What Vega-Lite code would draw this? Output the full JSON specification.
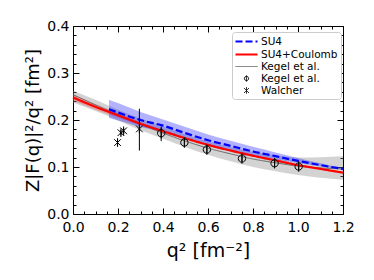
{
  "$schema": "https://vega.github.io/schema/vega-lite/v6.json",
  "width": 270,
  "height": 188,
  "autosize": {"type": "none"},
  "padding": {"left": 73, "top": 26, "right": 31, "bottom": 66},
  "config": {
    "font": "DejaVu Sans",
    "view": {"stroke": null},
    "axis": {"grid": false, "domainColor": "black", "tickColor": "black", "labelColor": "black", "titleColor": "black", "domainWidth": 1, "tickWidth": 1},
    "legend": {"fillColor": "white", "strokeColor": "#cccccc", "cornerRadius": 3, "padding": 3, "labelFontSize": 10.5, "labelFont": "DejaVu Sans", "labelColor": "black", "symbolSize": 100, "symbolOffset": 5, "labelOffset": 8, "rowPadding": 1, "symbolFillColor": "transparent"}
  },
  "datasets": {
    "grayband": [
      {"q": 0.0, "lo": 0.237, "hi": 0.263},
      {"q": 0.1, "lo": 0.219, "hi": 0.243},
      {"q": 0.2, "lo": 0.199, "hi": 0.222},
      {"q": 0.3, "lo": 0.178, "hi": 0.203},
      {"q": 0.4, "lo": 0.160, "hi": 0.186},
      {"q": 0.5, "lo": 0.142, "hi": 0.169},
      {"q": 0.6, "lo": 0.126, "hi": 0.154},
      {"q": 0.7, "lo": 0.112, "hi": 0.142},
      {"q": 0.8, "lo": 0.100, "hi": 0.132},
      {"q": 0.9, "lo": 0.091, "hi": 0.125},
      {"q": 1.0, "lo": 0.083, "hi": 0.120},
      {"q": 1.1, "lo": 0.077, "hi": 0.121},
      {"q": 1.2, "lo": 0.073, "hi": 0.123}
    ],
    "redband": [
      {"q": 0.0, "lo": 0.241, "hi": 0.255},
      {"q": 0.1, "lo": 0.222, "hi": 0.234},
      {"q": 0.2, "lo": 0.205, "hi": 0.215},
      {"q": 0.3, "lo": 0.188, "hi": 0.196},
      {"q": 0.4, "lo": 0.173, "hi": 0.179},
      {"q": 0.5, "lo": 0.159, "hi": 0.163},
      {"q": 0.6, "lo": 0.145, "hi": 0.149},
      {"q": 0.7, "lo": 0.133, "hi": 0.137},
      {"q": 0.8, "lo": 0.122, "hi": 0.126},
      {"q": 0.9, "lo": 0.112, "hi": 0.116},
      {"q": 1.0, "lo": 0.102, "hi": 0.106},
      {"q": 1.1, "lo": 0.094, "hi": 0.098},
      {"q": 1.2, "lo": 0.086, "hi": 0.090}
    ],
    "blueband": [
      {"q": 0.16, "lo": 0.204, "hi": 0.243},
      {"q": 0.2, "lo": 0.199, "hi": 0.236},
      {"q": 0.3, "lo": 0.185, "hi": 0.217},
      {"q": 0.4, "lo": 0.175, "hi": 0.201},
      {"q": 0.5, "lo": 0.161, "hi": 0.185},
      {"q": 0.6, "lo": 0.147, "hi": 0.169},
      {"q": 0.7, "lo": 0.135, "hi": 0.156},
      {"q": 0.8, "lo": 0.125, "hi": 0.143},
      {"q": 0.9, "lo": 0.116, "hi": 0.131},
      {"q": 1.0, "lo": 0.109, "hi": 0.119},
      {"q": 1.1, "lo": 0.101, "hi": 0.108},
      {"q": 1.2, "lo": 0.094, "hi": 0.098}
    ],
    "curves": [
      {"series": "Kegel line", "q": 0.0, "y": 0.254},
      {"series": "Kegel line", "q": 0.1, "y": 0.232},
      {"series": "Kegel line", "q": 0.2, "y": 0.211},
      {"series": "Kegel line", "q": 0.3, "y": 0.191},
      {"series": "Kegel line", "q": 0.4, "y": 0.172},
      {"series": "Kegel line", "q": 0.5, "y": 0.155},
      {"series": "Kegel line", "q": 0.6, "y": 0.140},
      {"series": "Kegel line", "q": 0.7, "y": 0.128},
      {"series": "Kegel line", "q": 0.8, "y": 0.117},
      {"series": "Kegel line", "q": 0.9, "y": 0.109},
      {"series": "Kegel line", "q": 1.0, "y": 0.102},
      {"series": "Kegel line", "q": 1.1, "y": 0.098},
      {"series": "Kegel line", "q": 1.2, "y": 0.096},
      {"series": "SU4+Coulomb", "q": 0.0, "y": 0.248},
      {"series": "SU4+Coulomb", "q": 0.1, "y": 0.228},
      {"series": "SU4+Coulomb", "q": 0.2, "y": 0.210},
      {"series": "SU4+Coulomb", "q": 0.3, "y": 0.192},
      {"series": "SU4+Coulomb", "q": 0.4, "y": 0.176},
      {"series": "SU4+Coulomb", "q": 0.5, "y": 0.161},
      {"series": "SU4+Coulomb", "q": 0.6, "y": 0.147},
      {"series": "SU4+Coulomb", "q": 0.7, "y": 0.135},
      {"series": "SU4+Coulomb", "q": 0.8, "y": 0.124},
      {"series": "SU4+Coulomb", "q": 0.9, "y": 0.114},
      {"series": "SU4+Coulomb", "q": 1.0, "y": 0.104},
      {"series": "SU4+Coulomb", "q": 1.1, "y": 0.096},
      {"series": "SU4+Coulomb", "q": 1.2, "y": 0.088},
      {"series": "SU4", "q": 0.16, "y": 0.223},
      {"series": "SU4", "q": 0.2, "y": 0.216},
      {"series": "SU4", "q": 0.3, "y": 0.200},
      {"series": "SU4", "q": 0.4, "y": 0.188},
      {"series": "SU4", "q": 0.5, "y": 0.172},
      {"series": "SU4", "q": 0.6, "y": 0.157},
      {"series": "SU4", "q": 0.7, "y": 0.145},
      {"series": "SU4", "q": 0.8, "y": 0.133},
      {"series": "SU4", "q": 0.9, "y": 0.123},
      {"series": "SU4", "q": 1.0, "y": 0.113},
      {"series": "SU4", "q": 1.1, "y": 0.104},
      {"series": "SU4", "q": 1.2, "y": 0.096}
    ],
    "kegel": [
      {"series": "Kegel data", "q": 0.392, "y": 0.172, "lo": 0.155, "hi": 0.186},
      {"series": "Kegel data", "q": 0.495, "y": 0.152, "lo": 0.143, "hi": 0.161},
      {"series": "Kegel data", "q": 0.595, "y": 0.137, "lo": 0.129, "hi": 0.145},
      {"series": "Kegel data", "q": 0.751, "y": 0.118, "lo": 0.111, "hi": 0.125},
      {"series": "Kegel data", "q": 0.896, "y": 0.108, "lo": 0.101, "hi": 0.115},
      {"series": "Kegel data", "q": 1.003, "y": 0.101, "lo": 0.094, "hi": 0.108}
    ],
    "walcher": [
      {"series": "Walcher", "q": 0.198, "y": 0.152, "lo": 0.145, "hi": 0.159},
      {"series": "Walcher", "q": 0.213, "y": 0.173, "lo": 0.167, "hi": 0.179},
      {"series": "Walcher", "q": 0.225, "y": 0.177, "lo": 0.171, "hi": 0.183},
      {"series": "Walcher", "q": 0.295, "y": 0.181, "lo": 0.135, "hi": 0.224}
    ]
  },
  "encoding": {
    "x": {"field": "q", "type": "quantitative", "scale": {"domain": [0, 1.2], "nice": false, "zero": false}, "axis": null},
    "y": {"field": "y", "type": "quantitative", "scale": {"domain": [0, 0.4], "nice": false, "zero": false}, "axis": null}
  },
  "layer": [
    {
      "data": {"name": "grayband"},
      "mark": {"type": "area", "color": "#808080", "opacity": 0.35, "interpolate": "monotone"},
      "encoding": {
        "x": {"field": "q", "type": "quantitative", "scale": {"domain": [0, 1.2], "nice": false, "zero": false},
          "axis": {"orient": "bottom", "values": [0, 0.2, 0.4, 0.6, 0.8, 1.0, 1.2], "format": ".1f", "tickSize": -6, "labelPadding": 12, "labelFontSize": 14, "labelFlush": false, "labelOverlap": false, "title": "q² [fm⁻²]", "titleFontSize": 19, "titleFontWeight": "normal", "titlePadding": 7}},
        "y": {"field": "lo", "type": "quantitative", "scale": {"domain": [0, 0.4], "nice": false, "zero": false},
          "axis": {"orient": "left", "values": [0, 0.1, 0.2, 0.3, 0.4], "format": ".1f", "tickSize": -6, "labelPadding": 10, "labelFontSize": 14, "labelFlush": false, "labelOverlap": false, "title": "Z|F(q)|²/q² [fm²]", "titleFontSize": 18, "titleFontWeight": "normal", "titlePadding": 4}},
        "y2": {"field": "hi"}
      }
    },
    {
      "data": {"name": "redband"},
      "mark": {"type": "area", "color": "#ff0000", "opacity": 0.25, "interpolate": "monotone"},
      "encoding": {
        "x": {"field": "q", "type": "quantitative", "scale": {"domain": [0, 1.2], "nice": false, "zero": false},
          "axis": {"orient": "bottom", "values": [0.05, 0.1, 0.15, 0.25, 0.3, 0.35, 0.45, 0.5, 0.55, 0.65, 0.7, 0.75, 0.85, 0.9, 0.95, 1.05, 1.1, 1.15], "tickSize": -3, "labels": false, "domain": false, "title": null}},
        "y": {"field": "lo", "type": "quantitative", "scale": {"domain": [0, 0.4], "nice": false, "zero": false},
          "axis": {"orient": "left", "values": [0.02, 0.04, 0.06, 0.08, 0.12, 0.14, 0.16, 0.18, 0.22, 0.24, 0.26, 0.28, 0.32, 0.34, 0.36, 0.38], "tickSize": -3, "labels": false, "domain": false, "title": null}},
        "y2": {"field": "hi"}
      }
    },
    {
      "data": {"name": "blueband"},
      "mark": {"type": "area", "color": "#0000ff", "opacity": 0.3, "interpolate": "monotone"},
      "encoding": {
        "x": {"field": "q", "type": "quantitative", "scale": {"domain": [0, 1.2], "nice": false, "zero": false},
          "axis": {"orient": "top", "values": [0, 0.2, 0.4, 0.6, 0.8, 1.0, 1.2], "tickSize": -6, "labels": false, "title": null}},
        "y": {"field": "lo", "type": "quantitative", "scale": {"domain": [0, 0.4], "nice": false, "zero": false},
          "axis": {"orient": "right", "values": [0, 0.1, 0.2, 0.3, 0.4], "tickSize": -6, "labels": false, "title": null}},
        "y2": {"field": "hi"}
      }
    },
    {
      "data": {"name": "curves"},
      "transform": [{"filter": "datum.series == 'Kegel line'"}],
      "mark": {"type": "line", "interpolate": "monotone"},
      "encoding": {
        "x": {"field": "q", "type": "quantitative", "scale": {"domain": [0, 1.2], "nice": false, "zero": false},
          "axis": {"orient": "top", "values": [0.05, 0.1, 0.15, 0.25, 0.3, 0.35, 0.45, 0.5, 0.55, 0.65, 0.7, 0.75, 0.85, 0.9, 0.95, 1.05, 1.1, 1.15], "tickSize": -3, "labels": false, "domain": false, "title": null}},
        "y": {"field": "y", "type": "quantitative", "scale": {"domain": [0, 0.4], "nice": false, "zero": false},
          "axis": {"orient": "right", "values": [0.02, 0.04, 0.06, 0.08, 0.12, 0.14, 0.16, 0.18, 0.22, 0.24, 0.26, 0.28, 0.32, 0.34, 0.36, 0.38], "tickSize": -3, "labels": false, "domain": false, "title": null}},
        "color": {"field": "series", "type": "nominal", "scale": {"domain": ["SU4", "SU4+Coulomb", "Kegel line", "Kegel data", "Walcher"], "range": ["#0000ff", "#ff0000", "#666666", "black", "black"]},
          "legend": {"title": null, "orient": "none", "legendX": 159, "legendY": 6, "labelExpr": "datum.label == 'Kegel line' || datum.label == 'Kegel data' ? 'Kegel et al.' : datum.label"}},
        "strokeDash": {"field": "series", "type": "nominal", "scale": {"domain": ["SU4", "SU4+Coulomb", "Kegel line", "Kegel data", "Walcher"], "range": [[7, 3], [1, 0], [1, 0], [1, 0], [1, 0]]},
          "legend": {"title": null, "orient": "none", "legendX": 159, "legendY": 6, "labelExpr": "datum.label == 'Kegel line' || datum.label == 'Kegel data' ? 'Kegel et al.' : datum.label"}},
        "strokeWidth": {"field": "series", "type": "nominal", "scale": {"type": "ordinal", "domain": ["SU4", "SU4+Coulomb", "Kegel line", "Kegel data", "Walcher"], "range": [2.2, 2.2, 1, 1, 1]},
          "legend": {"title": null, "orient": "none", "legendX": 159, "legendY": 6, "labelExpr": "datum.label == 'Kegel line' || datum.label == 'Kegel data' ? 'Kegel et al.' : datum.label"}}
      }
    },
    {
      "data": {"name": "curves"},
      "transform": [{"filter": "datum.series == 'SU4+Coulomb'"}],
      "mark": {"type": "line", "interpolate": "monotone"},
      "encoding": {
        "color": {"field": "series", "type": "nominal", "scale": {"domain": ["SU4", "SU4+Coulomb", "Kegel line", "Kegel data", "Walcher"], "range": ["#0000ff", "#ff0000", "#666666", "black", "black"]},
          "legend": {"title": null, "orient": "none", "legendX": 159, "legendY": 6, "labelExpr": "datum.label == 'Kegel line' || datum.label == 'Kegel data' ? 'Kegel et al.' : datum.label"}},
        "strokeDash": {"field": "series", "type": "nominal", "scale": {"domain": ["SU4", "SU4+Coulomb", "Kegel line", "Kegel data", "Walcher"], "range": [[7, 3], [1, 0], [1, 0], [1, 0], [1, 0]]},
          "legend": {"title": null, "orient": "none", "legendX": 159, "legendY": 6, "labelExpr": "datum.label == 'Kegel line' || datum.label == 'Kegel data' ? 'Kegel et al.' : datum.label"}},
        "strokeWidth": {"field": "series", "type": "nominal", "scale": {"type": "ordinal", "domain": ["SU4", "SU4+Coulomb", "Kegel line", "Kegel data", "Walcher"], "range": [2.2, 2.2, 1, 1, 1]},
          "legend": {"title": null, "orient": "none", "legendX": 159, "legendY": 6, "labelExpr": "datum.label == 'Kegel line' || datum.label == 'Kegel data' ? 'Kegel et al.' : datum.label"}}
      }
    },
    {
      "data": {"name": "curves"},
      "transform": [{"filter": "datum.series == 'SU4'"}],
      "mark": {"type": "line", "interpolate": "monotone"},
      "encoding": {
        "color": {"field": "series", "type": "nominal", "scale": {"domain": ["SU4", "SU4+Coulomb", "Kegel line", "Kegel data", "Walcher"], "range": ["#0000ff", "#ff0000", "#666666", "black", "black"]},
          "legend": {"title": null, "orient": "none", "legendX": 159, "legendY": 6, "labelExpr": "datum.label == 'Kegel line' || datum.label == 'Kegel data' ? 'Kegel et al.' : datum.label"}},
        "strokeDash": {"field": "series", "type": "nominal", "scale": {"domain": ["SU4", "SU4+Coulomb", "Kegel line", "Kegel data", "Walcher"], "range": [[7, 3], [1, 0], [1, 0], [1, 0], [1, 0]]},
          "legend": {"title": null, "orient": "none", "legendX": 159, "legendY": 6, "labelExpr": "datum.label == 'Kegel line' || datum.label == 'Kegel data' ? 'Kegel et al.' : datum.label"}},
        "strokeWidth": {"field": "series", "type": "nominal", "scale": {"type": "ordinal", "domain": ["SU4", "SU4+Coulomb", "Kegel line", "Kegel data", "Walcher"], "range": [2.2, 2.2, 1, 1, 1]},
          "legend": {"title": null, "orient": "none", "legendX": 159, "legendY": 6, "labelExpr": "datum.label == 'Kegel line' || datum.label == 'Kegel data' ? 'Kegel et al.' : datum.label"}}
      }
    },
    {
      "data": {"name": "kegel"},
      "mark": {"type": "rule", "color": "black", "strokeWidth": 1},
      "encoding": {"y": {"field": "lo", "type": "quantitative", "scale": {"domain": [0, 0.4], "nice": false, "zero": false}, "axis": null}, "y2": {"field": "hi"}}
    },
    {
      "data": {"name": "walcher"},
      "mark": {"type": "rule", "color": "black", "strokeWidth": 1},
      "encoding": {"y": {"field": "lo", "type": "quantitative", "scale": {"domain": [0, 0.4], "nice": false, "zero": false}, "axis": null}, "y2": {"field": "hi"}}
    },
    {
      "data": {"name": "kegel"},
      "mark": {"type": "point", "filled": false, "size": 306, "strokeWidth": 1, "opacity": 1},
      "encoding": {
        "color": {"field": "series", "type": "nominal", "scale": {"domain": ["SU4", "SU4+Coulomb", "Kegel line", "Kegel data", "Walcher"], "range": ["#0000ff", "#ff0000", "#666666", "black", "black"]},
          "legend": {"title": null, "orient": "none", "legendX": 159, "legendY": 6, "labelExpr": "datum.label == 'Kegel line' || datum.label == 'Kegel data' ? 'Kegel et al.' : datum.label"}},
        "shape": {"field": "series", "type": "nominal", "scale": {"domain": ["SU4", "SU4+Coulomb", "Kegel line", "Kegel data", "Walcher"], "range": ["M-2.2,0H2.2", "M-2.2,0H2.2", "M-2.2,0H2.2", "M0,-0.6V0.6M0.42,0A0.42,0.42 0 1 1 -0.42,0A0.42,0.42 0 1 1 0.42,0", "M-0.5,-0.5L0.5,0.5M-0.5,0.5L0.5,-0.5M0,-0.65V0.65"]},
          "legend": {"title": null, "orient": "none", "legendX": 159, "legendY": 6, "labelExpr": "datum.label == 'Kegel line' || datum.label == 'Kegel data' ? 'Kegel et al.' : datum.label"}}
      }
    },
    {
      "data": {"name": "walcher"},
      "mark": {"type": "point", "filled": false, "size": 180, "strokeWidth": 1, "opacity": 1},
      "encoding": {
        "color": {"field": "series", "type": "nominal", "scale": {"domain": ["SU4", "SU4+Coulomb", "Kegel line", "Kegel data", "Walcher"], "range": ["#0000ff", "#ff0000", "#666666", "black", "black"]},
          "legend": {"title": null, "orient": "none", "legendX": 159, "legendY": 6, "labelExpr": "datum.label == 'Kegel line' || datum.label == 'Kegel data' ? 'Kegel et al.' : datum.label"}},
        "shape": {"field": "series", "type": "nominal", "scale": {"domain": ["SU4", "SU4+Coulomb", "Kegel line", "Kegel data", "Walcher"], "range": ["M-2.2,0H2.2", "M-2.2,0H2.2", "M-2.2,0H2.2", "M0,-0.6V0.6M0.42,0A0.42,0.42 0 1 1 -0.42,0A0.42,0.42 0 1 1 0.42,0", "M-0.5,-0.5L0.5,0.5M-0.5,0.5L0.5,-0.5M0,-0.65V0.65"]},
          "legend": {"title": null, "orient": "none", "legendX": 159, "legendY": 6, "labelExpr": "datum.label == 'Kegel line' || datum.label == 'Kegel data' ? 'Kegel et al.' : datum.label"}}
      }
    }
  ],
  "resolve": {"axis": {"x": "independent", "y": "independent"}}
}
